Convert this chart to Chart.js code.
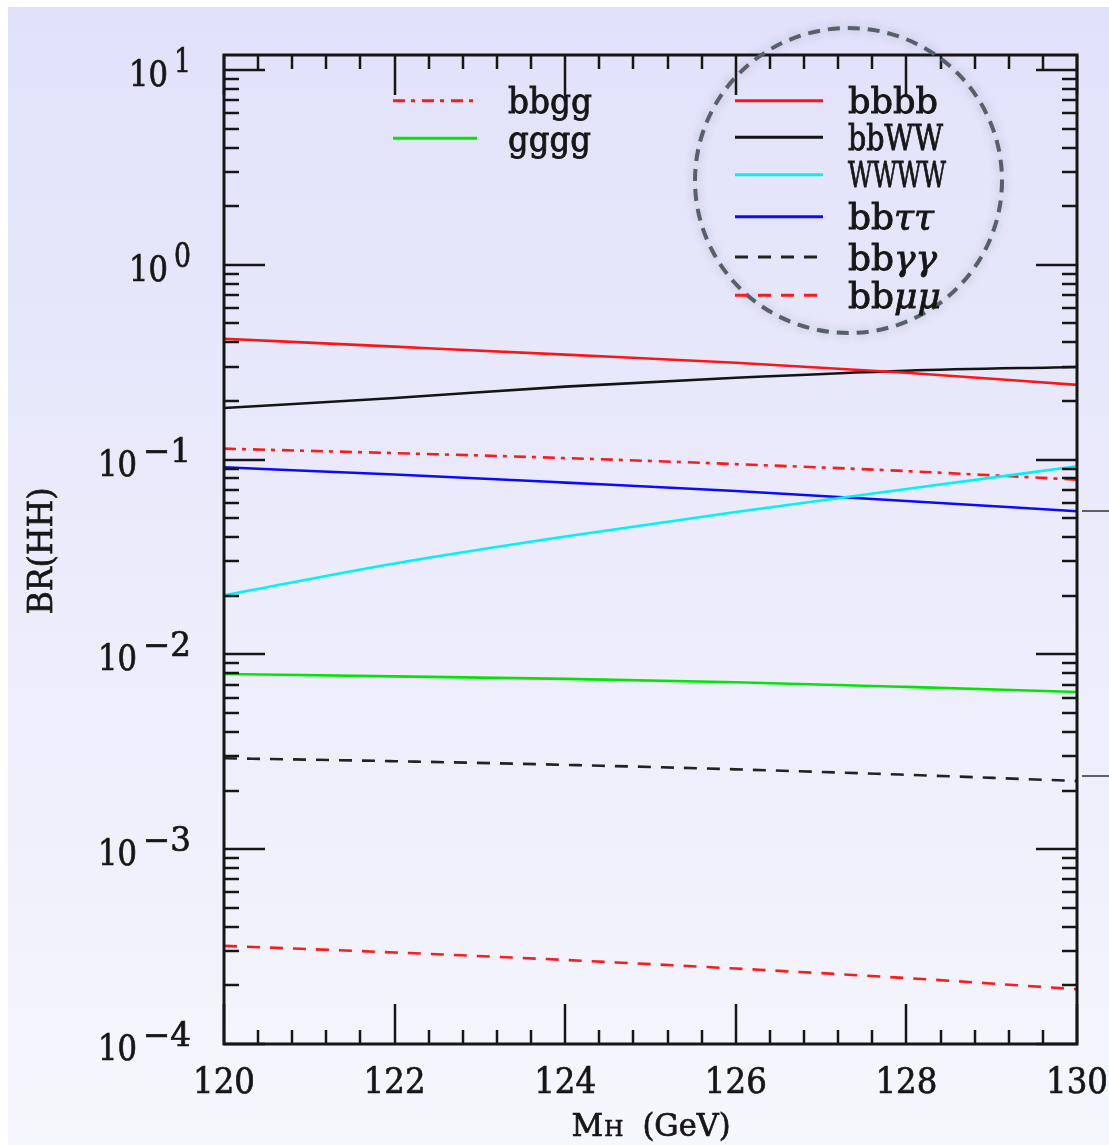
<!DOCTYPE html>
<html>
<head>
<meta charset="utf-8">
<title>BR(HH)</title>
<script src="https://cdn.jsdelivr.net/npm/chart.js@4.4.1/dist/chart.umd.min.js"></script>
<style>
  html, body { margin: 0; padding: 0; background: #fff; }
  #wrap { width: 1109px; height: 1145px; }
</style>
</head>
<body>
<div id="wrap"><canvas id="chart" width="1109" height="1145"></canvas></div>
<script>
// Higgs mass (GeV)
const masses = [120, 122, 124, 126, 128, 130];

// branching ratios of HH final states
const bbbb = [0.417, 0.380, 0.346, 0.314, 0.279, 0.242];
const bbWW = [0.184, 0.207, 0.237, 0.263, 0.286, 0.299];
const WWWW = [0.0201, 0.0293, 0.0403, 0.0538, 0.0706, 0.0924];
const bbTauTau = [0.0913, 0.0838, 0.0762, 0.0690, 0.0613, 0.0543];
const bbGamGam = [0.00293, 0.00283, 0.00271, 0.00257, 0.00241, 0.00224];
const bbMuMu = [0.000319, 0.000295, 0.000270, 0.000244, 0.000218, 0.000191];
const bbgg = [0.1138, 0.1080, 0.1018, 0.0948, 0.0873, 0.0789];
const gggg = [0.00793, 0.00771, 0.00749, 0.00719, 0.00681, 0.00641];

// tick labels
const xTickLabels = [120, 122, 124, 126, 128, 130];
const yDecades = [-4, -3, -2, -1, 0, 1];

const FONT = '"DejaVu Serif", "Liberation Serif", serif';
const INK = '#161616';

const pts = (arr) => arr.map((v, i) => ({ x: masses[i], y: v }));

const mkSet = (label, arr, color, dash) => ({
  label: label,
  data: pts(arr),
  borderColor: color,
  borderDash: dash || [],
  borderWidth: 2.6,
  pointRadius: 0,
  fill: false,
  cubicInterpolationMode: 'monotone',
});

const datasets = [
  mkSet('bbbb', bbbb, '#ff1414'),
  mkSet('bbWW', bbWW, '#141414'),
  mkSet('WWWW', WWWW, '#00f2f2'),
  mkSet('bbττ', bbTauTau, '#0a0aff'),
  mkSet('bbγγ', bbGamGam, '#222222', [13, 10]),
  mkSet('bbμμ', bbMuMu, '#ff1a1a', [13, 10]),
  mkSet('bbgg', bbgg, '#ff1a1a', [12, 6, 4, 7]),
  mkSet('gggg', gggg, '#00e600'),
];

// where each legend entry sits: [dataset index, line x1, line x2, text x, y, text max width]
const legendRows = [
  [6, 393, 477, 508, 100.7, 84],
  [7, 393, 477, 508, 138.3, 83],
  [0, 735, 823, 848, 100.7, 90],
  [1, 735, 823, 848, 137.3, 95],
  [2, 735, 823, 848, 174.7, 98],
  [3, 735, 823, 848, 216.7, 89],
  [4, 735, 823, 848, 257.0, 89],
  [5, 735, 823, 848, 295.3, 95],
];

function line(ctx, x1, y1, x2, y2) {
  ctx.beginPath();
  ctx.moveTo(x1, y1);
  ctx.lineTo(x2, y2);
  ctx.stroke();
}

// filled text with a thin outline, the original face is heavier than DejaVu
function inkText(ctx, s, x, y, maxW) {
  if (maxW) {
    ctx.fillText(s, x, y, maxW);
    ctx.strokeText(s, x, y, maxW);
  } else {
    ctx.fillText(s, x, y);
    ctx.strokeText(s, x, y);
  }
}

// label text with greek letters set in italic, squeezed to maxW
function drawLabel(ctx, text, x, y, size, maxW) {
  const parts = [];
  for (const ch of text) {
    const greek = /[\u0370-\u03ff]/.test(ch);
    const last = parts[parts.length - 1];
    if (last && last.greek === greek) last.s += ch;
    else parts.push({ s: ch, greek: greek });
  }
  let total = 0;
  parts.forEach((p) => {
    ctx.font = (p.greek ? 'italic ' : '') + size + 'px ' + FONT;
    p.w = ctx.measureText(p.s).width;
    total += p.w;
  });
  const k = Math.min(1, maxW / total);
  ctx.save();
  ctx.translate(x, y);
  ctx.scale(k, 1);
  let cx = 0;
  parts.forEach((p) => {
    ctx.font = (p.greek ? 'italic ' : '') + size + 'px ' + FONT;
    inkText(ctx, p.s, cx, 0);
    cx += p.w;
  });
  ctx.restore();
}

const paperPlugin = {
  id: 'paper',
  beforeDraw(chart) {
    const ctx = chart.ctx;
    ctx.save();
    ctx.fillStyle = '#ffffff';
    ctx.fillRect(0, 0, chart.width, chart.height);
    const g = ctx.createLinearGradient(0, 7, 0, chart.height);
    g.addColorStop(0, '#e1e1fa');
    g.addColorStop(1, '#f6f6fd');
    ctx.fillStyle = g;
    ctx.fillRect(8, 7, chart.width - 8, chart.height - 7);
    ctx.restore();
  },
  afterDatasetsDraw(chart) {
    const ctx = chart.ctx;
    const a = chart.chartArea;
    const xs = chart.scales.x;
    const ys = chart.scales.y;
    ctx.save();
    ctx.strokeStyle = INK;
    ctx.lineWidth = 2.5;

    // x ticks, bottom and top, pointing inward
    for (let i = 0; i <= 25; i++) {
      const px = Math.round(xs.getPixelForValue(120 + i * 0.4));
      const len = i % 5 === 0 ? 40 : 14;
      line(ctx, px, a.bottom, px, a.bottom - len);
      line(ctx, px, a.top, px, a.top + len);
    }
    // y ticks, left and right
    yDecades.forEach((d) => {
      for (let m = 1; m <= 9; m++) {
        const v = m * Math.pow(10, d);
        if (v < ys.min || v > ys.max) continue;
        const py = Math.round(ys.getPixelForValue(v));
        const len = m === 1 ? 41 : 15;
        line(ctx, a.left, py, a.left + len, py);
        line(ctx, a.right, py, a.right - len, py);
      }
    });

    ctx.lineWidth = 3;
    ctx.strokeRect(a.left, a.top, a.right - a.left, a.bottom - a.top);

    // tick labels
    ctx.fillStyle = INK;
    ctx.lineWidth = 0.7;
    ctx.textBaseline = 'alphabetic';
    ctx.font = '35px ' + FONT;
    ctx.textAlign = 'center';
    xTickLabels.forEach((v) => {
      inkText(ctx, String(v), xs.getPixelForValue(v), a.bottom + 49, 62);
    });

    yDecades.forEach((d) => {
      const py = ys.getPixelForValue(Math.pow(10, d));
      const sup = d < 0 ? '\u2212' + (-d) : String(d);
      ctx.font = '33px ' + FONT;
      const supW = Math.min(ctx.measureText(sup).width, d < 0 ? 48 : 17);
      const baseRight = 191 - supW - 6;
      ctx.textAlign = 'left';
      inkText(ctx, sup, baseRight + 6, py + 2, supW);
      ctx.font = '35px ' + FONT;
      ctx.textAlign = 'right';
      inkText(ctx, '10', baseRight, py + 16, 39);
    });

    // axis titles
    const cx = (a.left + a.right) / 2;
    ctx.textAlign = 'left';
    ctx.font = '31px ' + FONT;
    inkText(ctx, 'M', cx - 79, 1136);
    const mW = ctx.measureText('M').width;
    ctx.font = '22px ' + FONT;
    inkText(ctx, 'H', cx - 79 + mW + 1, 1136);
    ctx.font = '31px ' + FONT;
    inkText(ctx, '(GeV)', cx - 8, 1136, 88);

    ctx.save();
    ctx.translate(52, 551);
    ctx.rotate(-Math.PI / 2);
    ctx.textAlign = 'center';
    ctx.font = '33px ' + FONT;
    inkText(ctx, 'BR(HH)', 0, 0, 127);
    ctx.restore();

    // two stray rule lines outside the frame on the right
    ctx.lineWidth = 1.2;
    ctx.strokeStyle = '#000';
    line(ctx, 1082, 511, 1109, 511);
    line(ctx, 1082, 776, 1109, 776);
    ctx.restore();
  },
  afterDraw(chart) {
    const ctx = chart.ctx;
    ctx.save();
    // dashed circle round the right legend
    ctx.shadowColor = 'rgba(70, 70, 110, 0.35)';
    ctx.shadowBlur = 10;
    ctx.strokeStyle = '#566068';
    ctx.lineWidth = 4;
    ctx.setLineDash([12, 8]);
    ctx.beginPath();
    ctx.ellipse(848.5, 180.5, 153.5, 152.5, 0, 0, Math.PI * 2);
    ctx.stroke();
    ctx.restore();

    ctx.save();
    legendRows.forEach((r) => {
      const ds = chart.data.datasets[r[0]];
      ctx.strokeStyle = ds.borderColor;
      ctx.lineWidth = 3;
      ctx.setLineDash(ds.borderDash);
      line(ctx, r[1], r[4], r[2], r[4]);
      ctx.setLineDash([]);
      ctx.fillStyle = INK;
      ctx.strokeStyle = INK;
      ctx.lineWidth = 0.9;
      ctx.textAlign = 'left';
      drawLabel(ctx, ds.label, r[3], r[4] + 12.5, 36, r[5]);
    });
    ctx.restore();
  },
};

new Chart(document.getElementById('chart'), {
  type: 'line',
  data: { datasets: datasets },
  options: {
    responsive: false,
    devicePixelRatio: 1,
    animation: false,
    layout: { padding: { left: 224, top: 55, right: 32, bottom: 101 } },
    plugins: { legend: { display: false }, tooltip: { enabled: false } },
    scales: {
      x: { type: 'linear', min: 120, max: 130, display: false },
      y: { type: 'logarithmic', min: 1e-4, max: 11.94, display: false },
    },
  },
  plugins: [paperPlugin],
});
</script>
</body>
</html>
